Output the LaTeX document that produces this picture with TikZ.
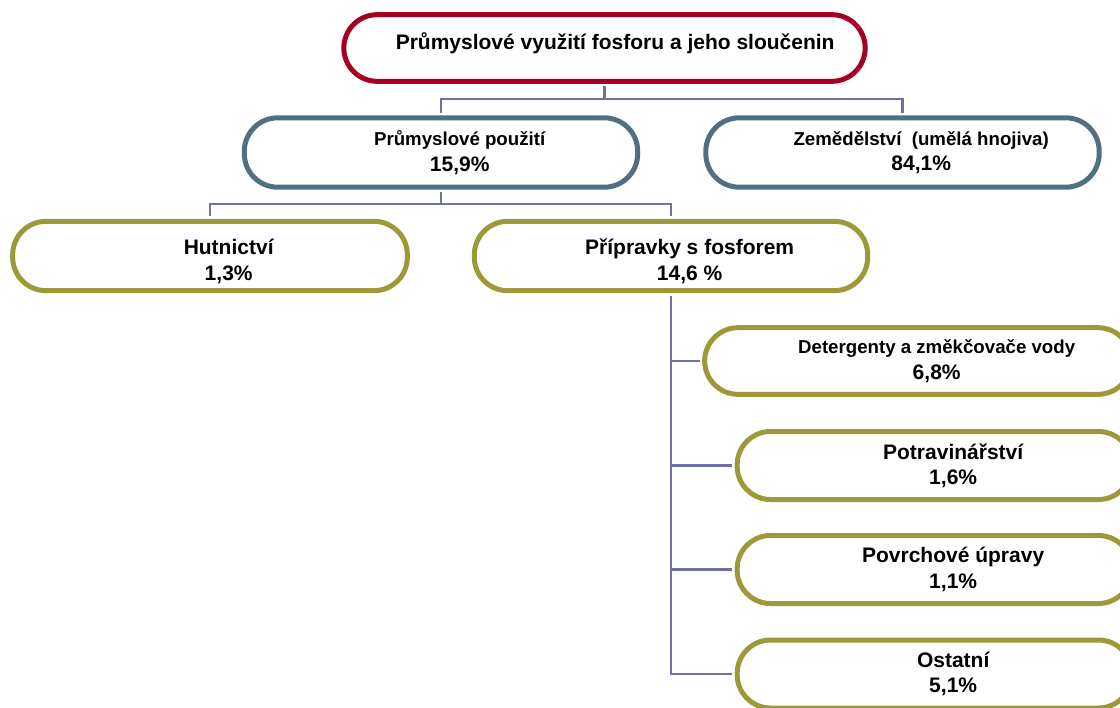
\documentclass[tikz,border=0pt]{standalone}
\usepackage{fontspec}
\setmainfont{Liberation Sans}
\usepackage{tikz}
\definecolor{rootred}{RGB}{165, 0, 33}
\definecolor{slate}{RGB}{80, 111, 130}
\definecolor{mossgreen}{RGB}{155, 153, 56}
\definecolor{linkblue}{RGB}{112, 112, 168}
\usetikzlibrary{positioning, calc}

\begin{document}
\begin{tikzpicture}[
    x=0.75pt, y=-0.75pt,
    box/.style={draw=#1, line width=3.75pt, rounded corners=25pt, fill=white,
                minimum width=295pt, minimum height=52pt, inner sep=0pt},
    tag/.style={align=center, xshift=14pt,
                font=\bfseries\fontsize{15.75}{19}\selectfont},
    link/.style={draw=linkblue, line width=1.6pt, shorten >=1.9pt, shorten <=1.9pt}
]
    \path[use as bounding box, clip] (0,0) rectangle (1120,707);

    % Root
    \node[box=rootred, minimum width=391pt, minimum height=50pt,
          label={[tag, xshift=-6pt, yshift=3.75pt]center:{Průmyslové využití fosforu a jeho sloučenin}}]
          (root) at (604.5,48) {};

    % Second level
    \node[box=slate,
          label={[tag]center:{{\fontsize{14}{19}\selectfont Průmyslové použití}\\15,9\%}}]
          (prum) at (441,152.5) {};
    \node[box=slate,
          label={[tag]center:{{\fontsize{14}{19}\selectfont Zemědělství\ \ (umělá hnojiva)}\\84,1\%}}]
          (zem) at (902.5,152.5) {};

    % Third level
    \node[box=mossgreen, minimum width=296pt,
          label={[tag, yshift=-4pt]center:{Hutnictví\\1,3\%}}]
          (hut) at (210,256) {};
    \node[box=mossgreen,
          label={[tag, yshift=-4pt]center:{Přípravky s fosforem\\14,6 \%}}]
          (prip) at (671,256) {};

    % Preparations
    \node[box=mossgreen, minimum width=320pt, minimum height=50pt,
          label={[tag]center:{{\fontsize{14}{19}\selectfont Detergenty a změkčovače vody}\\6,8\%}}]
          (det) at (918,361) {};
    \node[box=mossgreen, minimum width=296pt, minimum height=51pt,
          label={[tag]center:{Potravinářství\\1,6\%}}]
          (pot) at (934.5,465.5) {};
    \node[box=mossgreen, minimum width=296pt, minimum height=51pt,
          label={[tag]center:{Povrchové úpravy\\1,1\%}}]
          (pov) at (934.5,569.5) {};
    \node[box=mossgreen, minimum width=296pt, minimum height=51pt,
          label={[tag]center:{Ostatní\\5,1\%}}]
          (ost) at (934.5,674) {};

    % Connectors
    \draw[link] (root.south) -- ++(0,15.5) -| (prum.north);
    \draw[link] (root.south) -- ++(0,15.5) -| (zem.north);
    \draw[link] (prum.south) -- ++(0,14) -| (hut.north);
    \draw[link] (prum.south) -- ++(0,14) -| (prip.north);
    \foreach \c in {det, pot, pov, ost}
        \draw[link] (prip.south) |- (\c.west);
\end{tikzpicture}
\end{document}
